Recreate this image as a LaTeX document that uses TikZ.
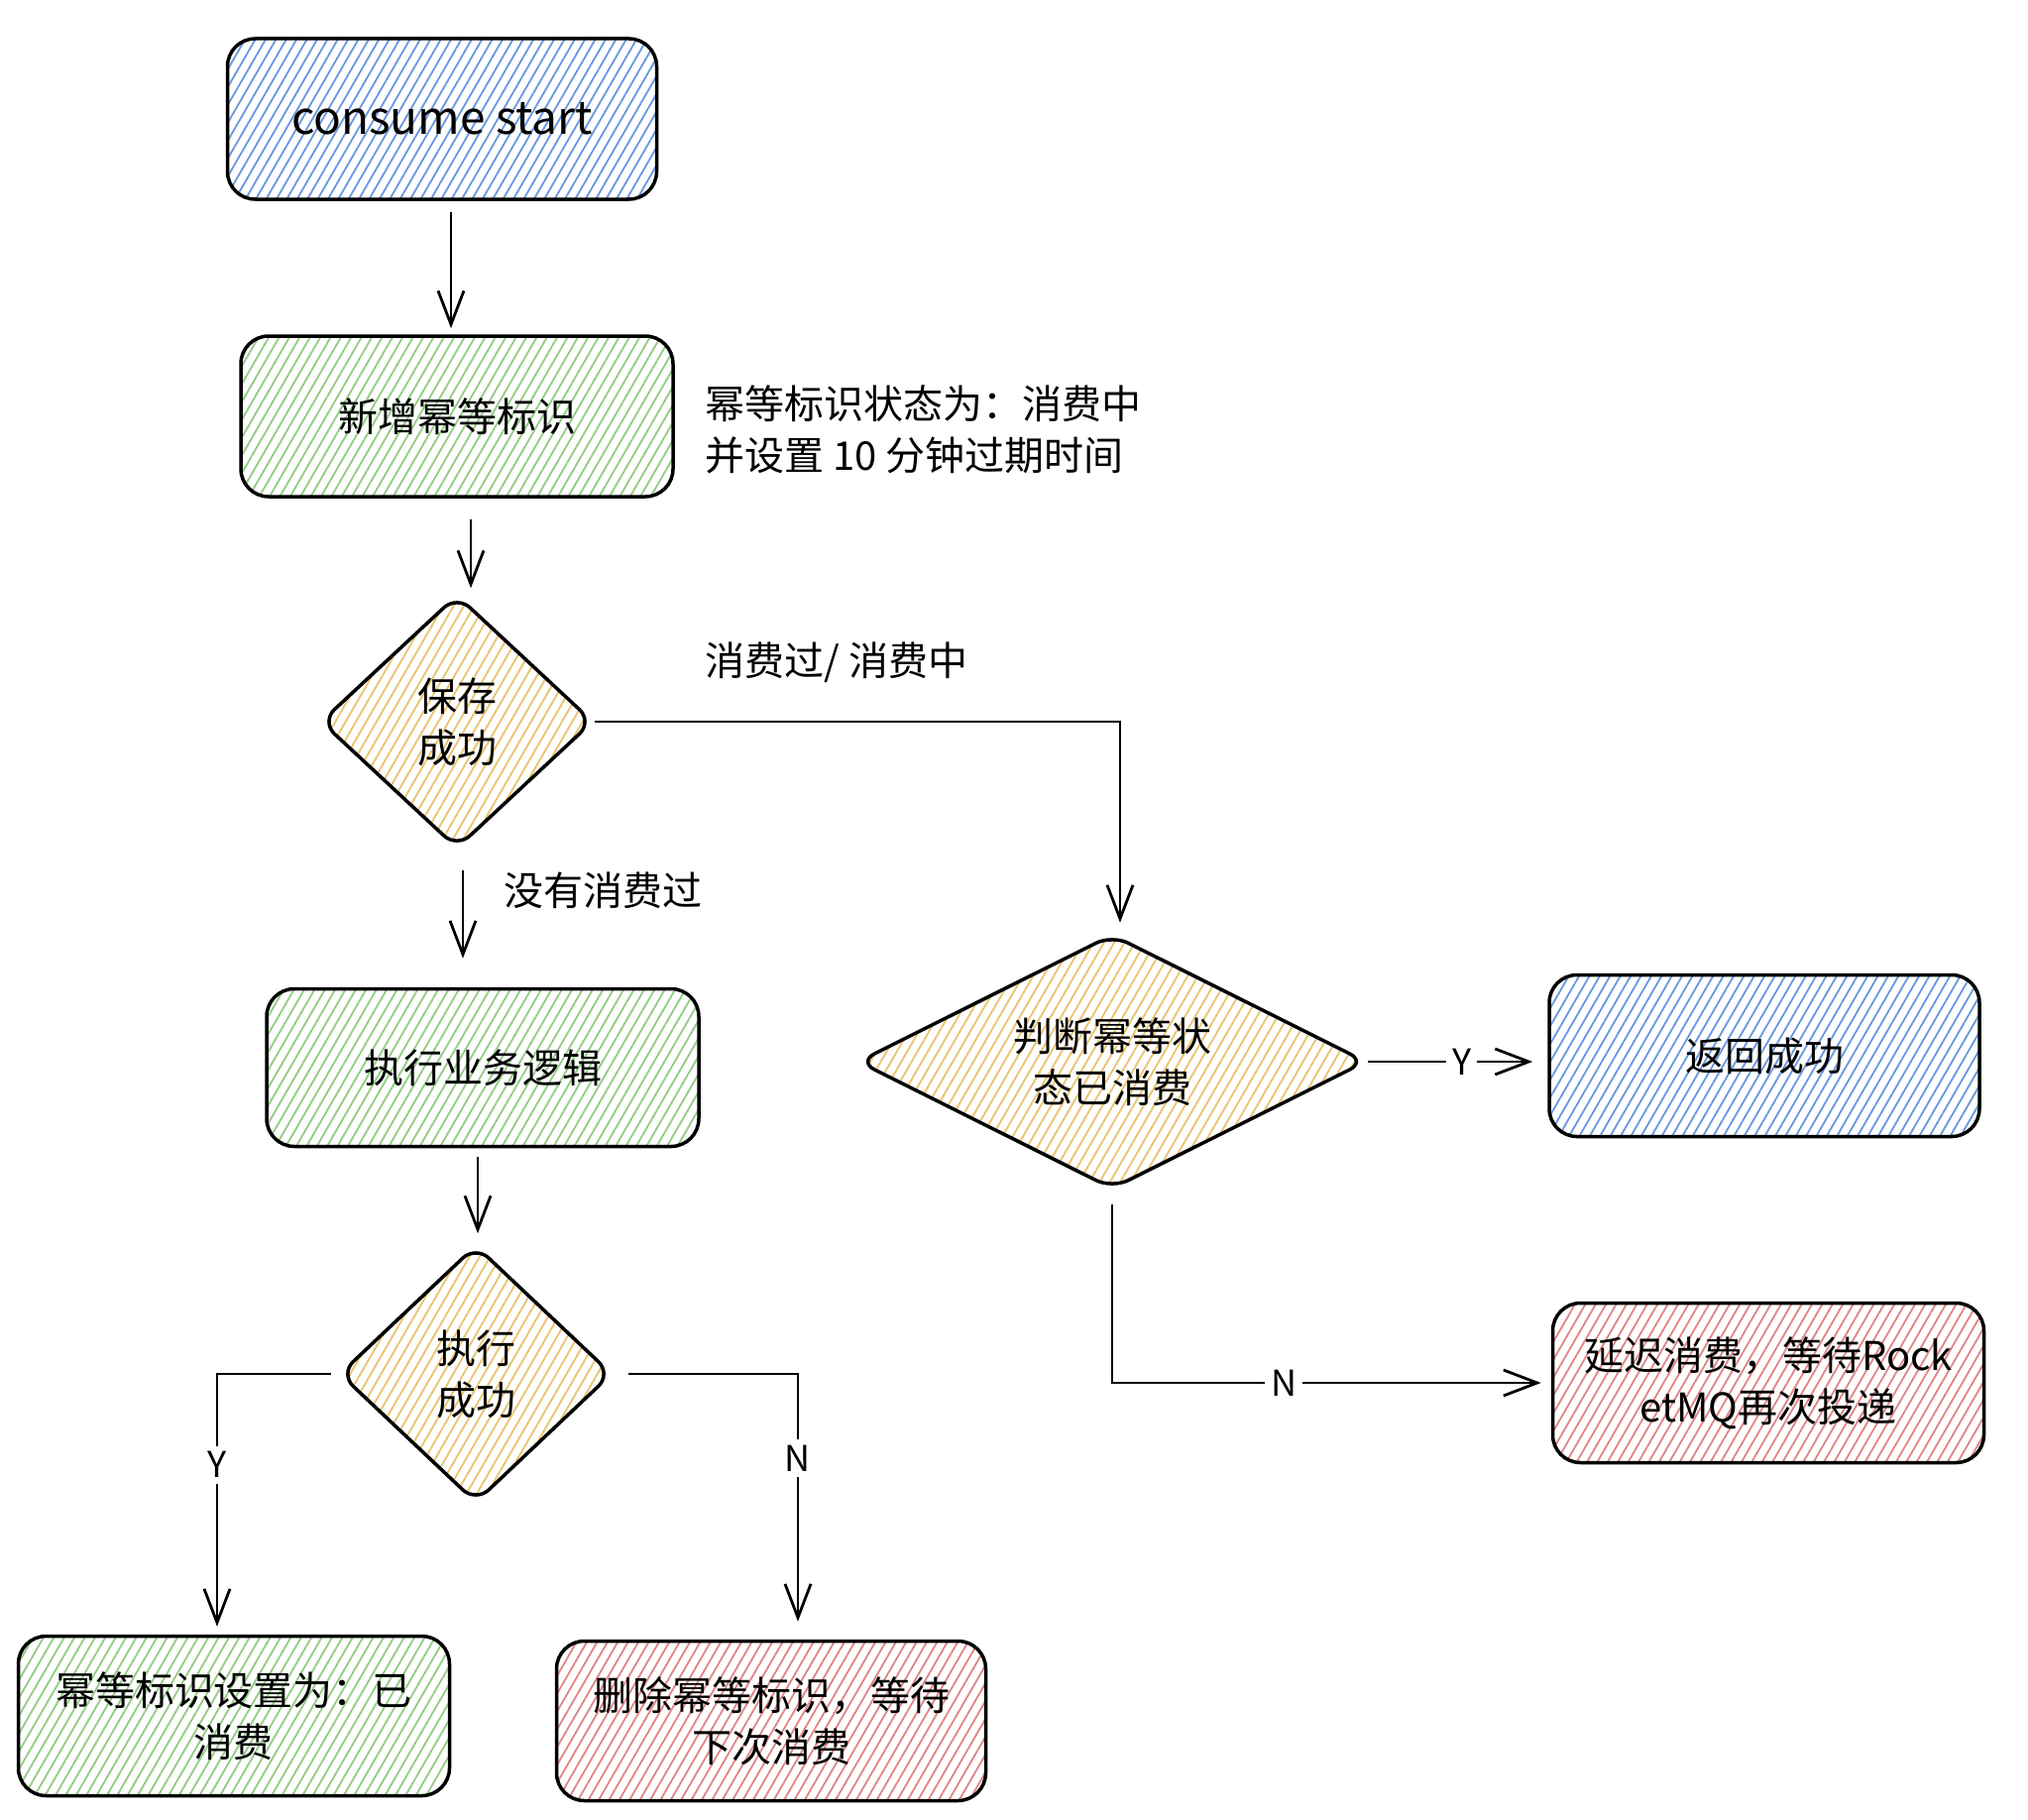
\documentclass[tikz,border=0pt]{standalone}
\usepackage{fontspec}
\setmainfont{Noto Sans CJK SC}
\usetikzlibrary{shapes.geometric,arrows.meta,patterns.meta}
\definecolor{hblue}{HTML}{6A97E0}
\definecolor{hgreen}{HTML}{92CC84}
\definecolor{hyellow}{HTML}{E9C46E}
\definecolor{hred}{HTML}{E08585}
\tikzset{
  x=1pt, y=-1pt,
  txt/.style={font=\fontsize{40}{52}\selectfont, align=center, text=black},
  box/.style={txt, draw=black, line width=3.5pt, rounded corners=28pt, inner sep=0pt,
    pattern={Lines[angle=60,distance=9pt,line width=1.8pt]}, pattern color=#1},
  dia/.style={txt, diamond, shape aspect=2, draw=black, line width=3.5pt, rounded corners=18pt, inner sep=0pt,
    pattern={Lines[angle=60,distance=9pt,line width=1.8pt]}, pattern color=#1},
  arr/.style={draw=black, line width=2.8pt, -{Straight Barb[length=34pt,width=26pt,line width=2.8pt]}},
  yn/.style={font=\fontsize{36}{40}\selectfont, fill=white, inner sep=6pt},
  lbl/.style={font=\fontsize{40}{52}\selectfont, align=left, text=black, inner sep=0pt}
}
\begin{document}
\begin{tikzpicture}
\useasboundingbox (0,0) rectangle (2046,1836);
\fill[white] (0,0) rectangle (2046,1836);

\node[box=hblue, minimum width=433pt, minimum height=162pt, font=\fontsize{46}{52}\selectfont] (start) at (446,120) {consume start};
\node[box=hgreen, minimum width=436pt, minimum height=162pt] (add) at (461,420) {新增幂等标识};
\node[lbl, anchor=west] (note) at (711,433) {幂等标识状态为：消费中\\并设置 10 分钟过期时间};
\node[dia=hyellow, minimum width=275pt, minimum height=256pt] (save) at (461,728) {保存\\成功};
\node[box=hgreen, minimum width=436pt, minimum height=159pt] (exec) at (487,1077) {执行业务逻辑};
\node[dia=hyellow, minimum width=275pt, minimum height=260pt] (ok) at (480,1386) {执行\\成功};
\node[box=hgreen, minimum width=435pt, minimum height=161pt] (setdone) at (236,1731) {幂等标识设置为：已\\消费};
\node[box=hred, minimum width=433pt, minimum height=161pt] (del) at (778,1736) {删除幂等标识，等待\\下次消费};
\node[dia=hyellow, minimum width=513pt, minimum height=257pt] (judge) at (1122,1071) {判断幂等状\\态已消费};
\node[box=hblue, minimum width=434pt, minimum height=163pt] (ret) at (1780,1065) {返回成功};
\node[box=hred, minimum width=435pt, minimum height=161pt] (delay) at (1784,1395) {延迟消费，等待Rock\\etMQ再次投递};

\node[lbl] (l1) at (844,668) {消费过/ 消费中};
\node[lbl, anchor=west] (l2) at (508,898) {没有消费过};

\draw[arr] ([xshift=9pt,yshift=-12pt]start.south) -- ([xshift=-6pt,yshift=6pt]add.north);
\draw[arr] ([xshift=14pt,yshift=-21pt]add.south) -- ([xshift=14pt,yshift=5pt]save.north);
\draw[arr] ([xshift=6pt,yshift=-20pt]save.south) -- ([xshift=-20pt,yshift=29pt]exec.north);
\draw[arr] (save.east) -| ([xshift=8pt,yshift=10pt]judge.north);
\draw[arr] ([xshift=-5pt,yshift=-9pt]exec.south) -- ([xshift=2pt,yshift=10pt]ok.north);
\draw[arr] ([xshift=-7pt]ok.west) -| node[yn, pos=0.68] {Y} ([xshift=-17pt,yshift=8pt]setdone.north);
\draw[arr] ([xshift=15pt]ok.east) -| node[yn, pos=0.67] {N} ([xshift=27pt,yshift=18pt]del.north);
\draw[arr] (judge.east) -- node[yn, pos=0.57] {Y} ([xshift=-15pt]ret.west |- judge.east);
\draw[arr] ([yshift=-14pt]judge.south) |- node[yn, pos=0.70] {N} ([xshift=-10pt]delay.west);
\end{tikzpicture}
\end{document}
